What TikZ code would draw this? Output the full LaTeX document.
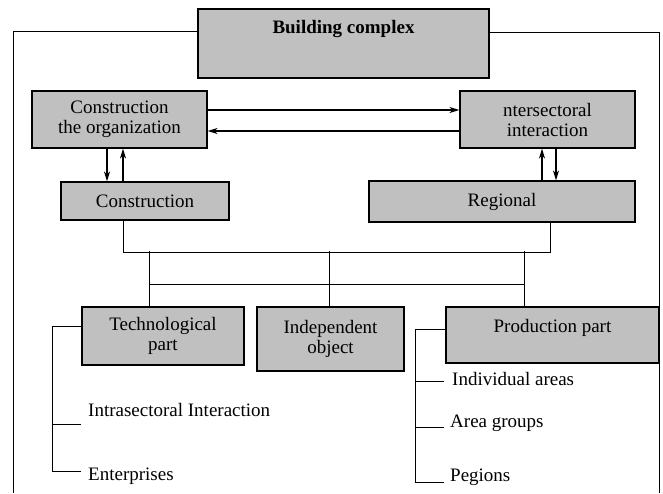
\documentclass[tikz,border=0pt]{standalone}
\usepackage{fontspec}
\setmainfont{Liberation Serif}
\usetikzlibrary{arrows.meta}
\usetikzlibrary{positioning}
\usetikzlibrary{calc}
\definecolor{grisbloc}{RGB}{192,192,192}
\begin{document}
\begin{tikzpicture}[x=1pt,y=-1pt]
\tikzstyle{bloc}=[
        rectangle,
        draw,
        line width=1.2pt,
        fill=grisbloc,
        inner sep=0pt,
        align=center,
        font=\fontsize{19}{20}\selectfont
]
\tikzstyle{texte}=[anchor=west,inner sep=2pt,font=\fontsize{19}{20}\selectfont]
\tikzstyle{trait}=[line width=0.9pt]
%styledesflèches
\tikzstyle{fleche}=[-{Stealth[length=10pt,width=6pt,inset=3pt]},line width=1.3pt]
\useasboundingbox (0,0) rectangle (663,493);
%placementdesblocs
\node[bloc,minimum width=291pt,minimum height=69pt,text depth=34pt,
      font=\fontsize{19}{20}\selectfont\bfseries] (complexe) at (343.5,43.5) {Building complex};
\node[bloc,minimum width=175pt,minimum height=57pt] (org) at (119.5,119.5) {Construction\\the organization};
\node[bloc,minimum width=175pt,minimum height=57pt] (inter) at (547.5,119.5) {ntersectoral\\interaction};
\node[bloc,minimum width=168pt,minimum height=38pt] (constr) at (145,201) {Construction};
\node[bloc,minimum width=266pt,minimum height=41pt] (reg) at (502,201.5) {Regional};
\node[bloc,minimum width=162pt,minimum height=58pt] (tech) at (163,336) {Technological\\part};
\node[bloc,minimum width=147pt,minimum height=64pt] (indep) at (330.5,339) {Independent\\object};
\node[bloc,minimum width=213pt,minimum height=56pt,text depth=19pt] (prod) at (552.5,335) {Production part};
\node[texte] (intra) at (86,410) {Intrasectoral Interaction};
\node[texte] (ent) at (86,476) {Enterprises};
\node[texte] (indiv) at (450,379) {Individual areas};
\node[texte] (groupes) at (448,423.5) {Area groups};
\node[texte] (pegions) at (448,477.5) {Pegions};
\coordinate (cadreG) at (13,493);
\coordinate (cadreD) at (659,493);
\coordinate (tigeG) at (52,471);
\coordinate (tigeD) at (415,482);
%cadre
\draw[trait] ([yshift=12.5pt]complexe.west) -| (cadreG);
\draw[trait] ([yshift=11.5pt]complexe.east) -| (cadreD);
%placementdesflèches
\draw[fleche] ([yshift=9.5pt]org.east) -- ([yshift=9.5pt]inter.west);
\draw[fleche] ([yshift=-11.5pt]inter.west) -- ([yshift=-11.5pt]org.east);
\draw[fleche] ([xshift=-12.5pt]org.south) -- ([xshift=-12.5pt]org.south |- constr.north);
\draw[fleche] ([xshift=3.5pt]org.south |- constr.north) -- ([xshift=3.5pt]org.south);
\draw[fleche] ([xshift=-5.5pt]inter.south |- reg.north) -- ([xshift=-5.5pt]inter.south);
\draw[fleche] ([xshift=8.5pt]inter.south) -- ([xshift=8.5pt]inter.south |- reg.north);
%liaisons
\draw[trait] ([xshift=-22pt]constr.south) -- ++(0,32) -| ([xshift=48pt]reg.south);
\draw[trait] ([xshift=-14pt]tech.north) -- ++(0,-55);
\draw[trait] ([xshift=-1.5pt]indep.north) -- ++(0,-55);
\draw[trait] ([xshift=-28.5pt]prod.north) -- ++(0,-55);
\draw[trait] ([xshift=-14pt,yshift=22pt]tech.north) -- ([xshift=-28.5pt,yshift=22pt]prod.north);
%arborescences
\draw[trait] ([yshift=10pt]tech.west) -| (tigeG);
\draw[trait] ([xshift=-5pt,yshift=-14pt]intra.west) -- ++(-29,0);
\draw[trait] ([xshift=-5pt,yshift=5pt]ent.west) -- (tigeG);
\draw[trait] ([yshift=6pt]prod.west) -| (tigeD);
\draw[trait] ([xshift=-6pt,yshift=-2pt]indiv.west) -- ++(-29,0);
\draw[trait] ([xshift=-4pt,yshift=-3.5pt]groupes.west) -- ++(-29,0);
\draw[trait] ([xshift=-4pt,yshift=-4.5pt]pegions.west) -- (tigeD);
\end{tikzpicture}
\end{document}
